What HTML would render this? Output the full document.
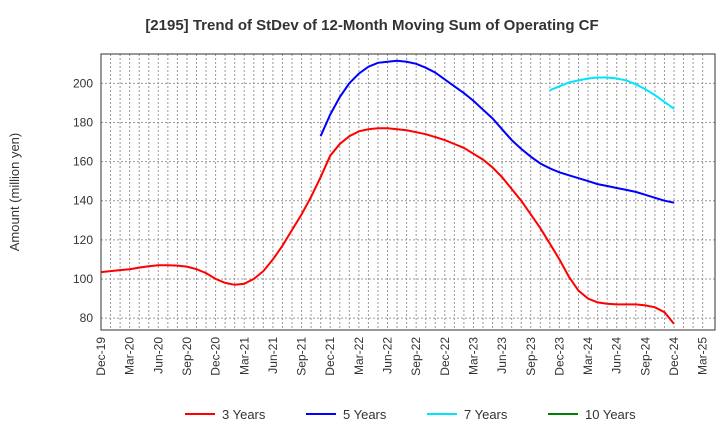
<!DOCTYPE html>
<html><head><meta charset="utf-8"><style>
body{margin:0;background:#fff;font-family:"Liberation Sans",sans-serif}
</style></head><body>
<svg id="c" width="720" height="440" xmlns="http://www.w3.org/2000/svg">
<text x="372" y="30" text-anchor="middle" font-size="15" font-weight="bold" fill="#333">[2195]  Trend of StDev of 12-Month Moving Sum of Operating CF</text>
<text transform="translate(19,192) rotate(-90)" text-anchor="middle" font-size="13" fill="#333">Amount (million yen)</text>
<g id="grid"></g><g id="axes"></g><g id="series"></g><g id="legend"></g>
</svg>
<script>
const xLabels=["Dec-19","Mar-20","Jun-20","Sep-20","Dec-20","Mar-21","Jun-21","Sep-21","Dec-21","Mar-22","Jun-22","Sep-22","Dec-22","Mar-23","Jun-23","Sep-23","Dec-23","Mar-24","Jun-24","Sep-24","Dec-24","Mar-25"];
const yTicks=[80,100,120,140,160,180,200];
const s3Start=0;
const s3=[103.5,104,104.5,105,105.8,106.5,107,107,106.8,106.3,105,103,100,98,97,97.5,100,104,110,117,125,133,142,152,163,169,173,175.5,176.5,177,177,176.5,176,175,174,172.5,171,169,167,164,161,157,152,146,140,133,126,118,110,101,94,90,88,87.3,87,87,87,86.5,85.5,83,77];
const s5Start=23;
const s5=[173,184,193,200,205,208.5,210.5,211,211.5,211,210,208,205.5,202,198.5,195,191,186.5,182,176.5,171,166.5,162.5,159,156.5,154.5,153,151.5,150,148.5,147.5,146.5,145.5,144.5,143,141.5,140,139];
const s7Start=47;
const s7=[196.5,198.5,200.5,201.5,202.5,203,203,202.5,201.5,199.5,197,194,190.5,187];
const s10=[];
const L=101,R=715,T=54,B=330,yMin=73.9,yMax=215;
const mPx=9.55;
const X=i=>L+i*mPx;
const Y=v=>B-(v-yMin)/(yMax-yMin)*(B-T);
const NS="http://www.w3.org/2000/svg";
function mk(tag,attrs,parent){const e=document.createElementNS(NS,tag);for(const k in attrs)e.setAttribute(k,attrs[k]);parent.appendChild(e);return e;}
const grid=document.getElementById('grid'),axes=document.getElementById('axes'),series=document.getElementById('series'),legend=document.getElementById('legend');
for(let i=1;i<64;i++){const x=X(i);if(x>=R)break;const l=mk('line',{x1:x,x2:x,y1:T,y2:B,stroke:'#999','stroke-dasharray':'2,2','stroke-width':1},grid);

}
yTicks.forEach(v=>{const l=mk('line',{x1:L,x2:R,y1:Y(v),y2:Y(v),stroke:'#999','stroke-dasharray':'2,2','stroke-width':1},grid);


const t=mk('text',{x:L-8,y:Y(v)+4,'text-anchor':'end','font-size':12,fill:'#333'},axes);t.textContent=v;

});
const fr=mk('rect',{x:L,y:T,width:R-L,height:B-T,fill:'none',stroke:'#333','stroke-width':1},axes);


xLabels.forEach((s,k)=>{const x=X(k*3);const t=mk('text',{transform:`translate(${x+4},${B+7}) rotate(-90)`,'text-anchor':'end','font-size':12,fill:'#333'},axes);t.textContent=s;

});
function line(arr,start,color,name){if(!arr.length)return;const d=arr.map((v,i)=>(i?'L':'M')+X(start+i).toFixed(1)+','+Y(v).toFixed(1)).join(' ');
const p=mk('path',{d:d,fill:'none',stroke:color,'stroke-width':2},series);

}
line(s3,s3Start,'#ff0000','series-3-years');
line(s5,s5Start,'#0000ff','series-5-years');
line(s7,s7Start,'#00e5ff','series-7-years');
line(s10,0,'#008000','series-10-years');
const items=[["3 Years","#ff0000",185],["5 Years","#0000ff",306],["7 Years","#00e5ff",427],["10 Years","#008000",548]];
items.forEach(([n,c,x])=>{const g=mk('g',{},legend);


mk('line',{x1:x,x2:x+30,y1:414,y2:414,stroke:c,'stroke-width':2},g);
const t=mk('text',{x:x+37,y:419,'font-size':13,fill:'#333'},g);t.textContent=n;});
</script>
</body></html>
